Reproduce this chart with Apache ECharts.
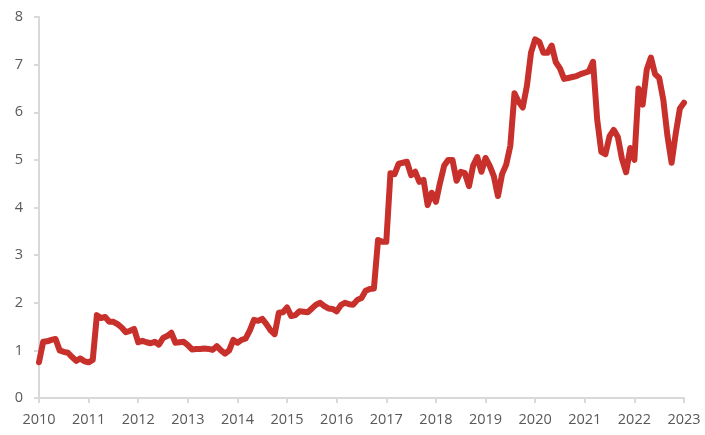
<!DOCTYPE html>
<html>
<head>
<meta charset="utf-8">
<script src="https://cdn.jsdelivr.net/npm/echarts@6/dist/echarts.min.js"></script>
<style>html,body{margin:0;padding:0;background:#fff;}#c{width:705px;height:435px;}</style>
</head>
<body>
<div id="c"></div>
<script>
// Monthly observations, Jan 2010 .. Jan 2023
const startYear = 2010;
const values = [
  0.75,1.18,1.19,1.22,1.24,1.00,0.97,0.95,0.86,0.78,0.83,0.77,
  0.75,0.80,1.74,1.68,1.70,1.60,1.60,1.55,1.48,1.38,1.41,1.45,
  1.17,1.20,1.17,1.15,1.18,1.12,1.26,1.30,1.37,1.16,1.17,1.18,
  1.11,1.02,1.03,1.03,1.04,1.03,1.01,1.09,1.00,0.93,1.00,1.22,
  1.16,1.22,1.25,1.42,1.64,1.62,1.66,1.55,1.42,1.34,1.79,1.80,
  1.90,1.72,1.74,1.82,1.81,1.80,1.88,1.96,2.00,1.93,1.88,1.87,
  1.82,1.95,2.00,1.97,1.96,2.06,2.10,2.25,2.29,2.30,3.32,3.28,
  3.28,4.72,4.70,4.92,4.94,4.96,4.68,4.75,4.54,4.58,4.05,4.31,
  4.12,4.52,4.88,5.00,5.00,4.56,4.75,4.72,4.45,4.88,5.06,4.75,
  5.04,4.88,4.66,4.24,4.70,4.90,5.30,6.40,6.22,6.10,6.55,7.25,
  7.53,7.48,7.25,7.25,7.40,7.05,6.92,6.70,6.72,6.74,6.76,6.80,
  6.83,6.86,7.06,5.85,5.17,5.12,5.50,5.63,5.48,5.02,4.74,5.25,
  5.00,6.50,6.16,6.90,7.15,6.80,6.72,6.26,5.50,4.94,5.55,6.08,
  6.20
];
const yearTicks = [2010,2011,2012,2013,2014,2015,2016,2017,2018,2019,2020,2021,2022,2023];
const yTicks = [0,1,2,3,4,5,6,7,8];

const seriesData = values.map((v, i) => [startYear + i / 12, v]);

const chart = echarts.init(document.getElementById('c'));
const axisColor = '#d9d9d9';
const labelColor = '#595959';
const fontFamily = '"Open Sans", "Liberation Sans", sans-serif';
chart.setOption({
  animation: false,
  grid: { left: 39, right: 21, top: 17, bottom: 37, containLabel: false },
  xAxis: {
    type: 'value',
    min: yearTicks[0],
    max: yearTicks[yearTicks.length - 1],
    interval: 1,
    axisLine: { show: true, lineStyle: { color: axisColor, width: 2 } },
    axisTick: { show: true, length: 5, lineStyle: { color: axisColor, width: 2 } },
    splitLine: { show: false },
    axisLabel: { color: labelColor, fontSize: 14.5, fontFamily, margin: 14, formatter: v => String(v) }
  },
  yAxis: {
    type: 'value',
    min: yTicks[0],
    max: yTicks[yTicks.length - 1],
    interval: 1,
    axisLine: { show: true, lineStyle: { color: axisColor, width: 2 } },
    axisTick: { show: true, length: 5, lineStyle: { color: axisColor, width: 2 } },
    splitLine: { show: false },
    axisLabel: { color: labelColor, fontSize: 14.5, fontFamily, margin: 16 }
  },
  series: [{
    type: 'line',
    data: seriesData,
    showSymbol: false,
    symbol: 'none',
    smooth: false,
    lineStyle: { color: '#c8312b', width: 6, join: 'round', cap: 'round' }
  }]
});
</script>
</body>
</html>
